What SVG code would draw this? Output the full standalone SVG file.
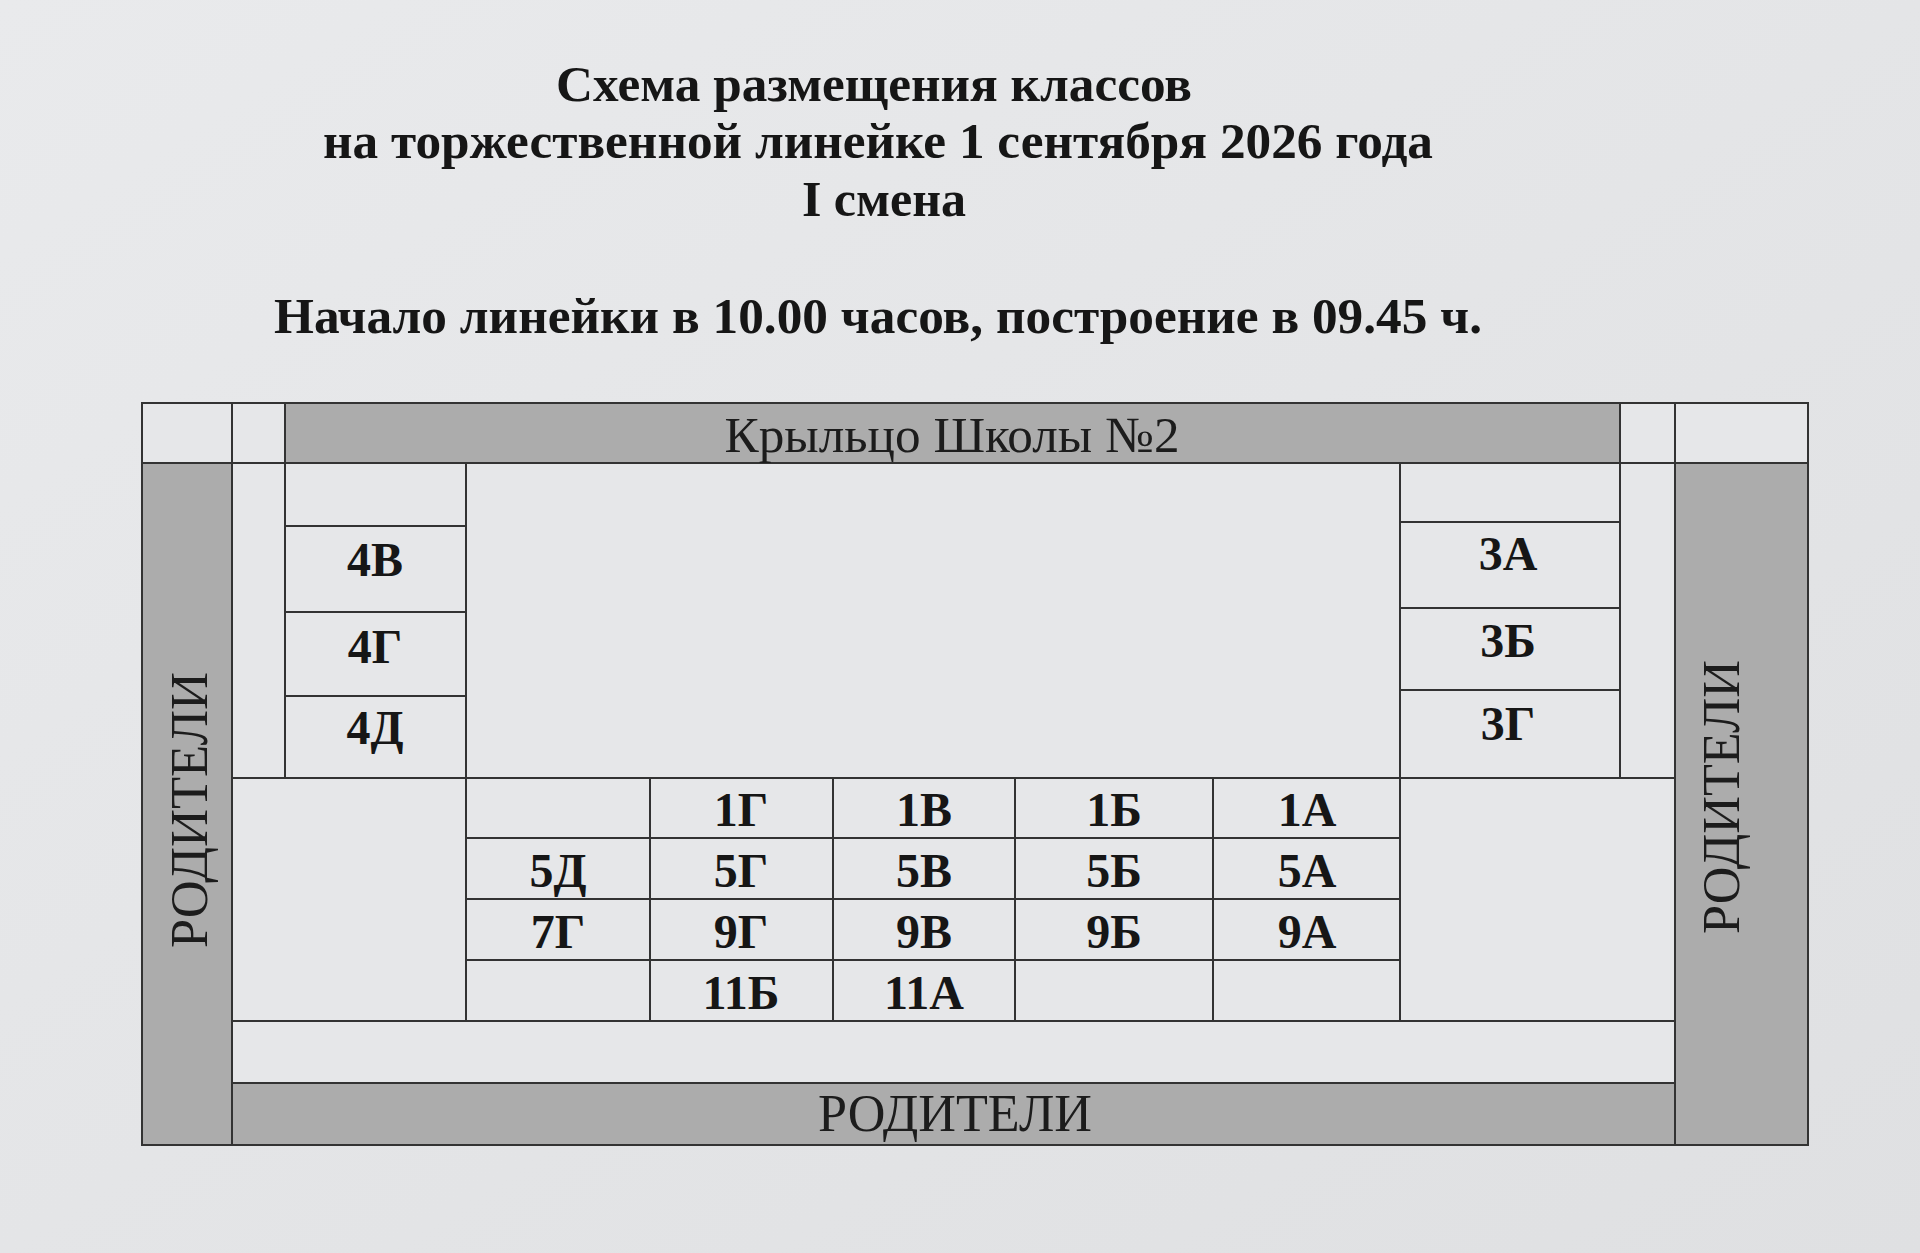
<svg xmlns="http://www.w3.org/2000/svg" width="1920" height="1253" viewBox="0 0 1920 1253">
<defs>
<linearGradient id="paper" x1="0" y1="0" x2="1" y2="1">
<stop offset="0" stop-color="#e9eaec"/>
<stop offset="1" stop-color="#dfe0e2"/>
</linearGradient>
<style>
.t{font-family:"Liberation Serif","Times New Roman",serif;font-weight:bold;fill:#161616;text-anchor:middle}
.r{font-family:"Liberation Serif","Times New Roman",serif;font-weight:normal;fill:#1c1c1c;text-anchor:middle}
.c{font-family:"Liberation Serif","Times New Roman",serif;font-weight:bold;font-size:48px;fill:#161616;text-anchor:middle}
.gray{fill:#acacac;stroke:#333;stroke-width:2}
.cell{fill:#e6e7e9;stroke:#333;stroke-width:2}
.ln{stroke:#333;stroke-width:2;fill:none}
</style>
</defs>
<rect width="1920" height="1253" fill="url(#paper)"/>

<g id="title">
<text class="t" x="874" y="101" font-size="50" textLength="636" lengthAdjust="spacingAndGlyphs">Схема размещения классов</text>
<text class="t" x="878" y="158" font-size="50" textLength="1110" lengthAdjust="spacingAndGlyphs">на торжественной линейке 1 сентября 2026 года</text>
<text class="t" x="884" y="216" font-size="50">I смена</text>
<text class="t" x="878" y="333" font-size="50" textLength="1208" lengthAdjust="spacingAndGlyphs">Начало линейки в 10.00 часов, построение в 09.45 ч.</text>
</g>

<g id="frame">
<rect class="cell" x="142" y="403" width="90" height="60"/>
<rect class="cell" x="232" y="403" width="53" height="60"/>
<rect class="cell" x="1620" y="403" width="55" height="60"/>
<rect class="cell" x="1675" y="403" width="133" height="60"/>
<rect class="cell" x="232" y="463" width="1443" height="620"/>
</g>

<g id="porch">
<rect class="gray" x="285" y="403" width="1335" height="60"/>
<text class="r" x="952" y="452" font-size="51" textLength="455" lengthAdjust="spacingAndGlyphs">Крыльцо Школы №2</text>
</g>

<g id="parents-left">
<rect class="gray" x="142" y="463" width="90" height="682"/>
<text class="r" font-size="52" transform="translate(207,810) rotate(-90)" textLength="276" lengthAdjust="spacingAndGlyphs">РОДИТЕЛИ</text>
</g>
<g id="parents-right">
<rect class="gray" x="1675" y="463" width="133" height="682"/>
<text class="r" font-size="52" transform="translate(1739,797) rotate(-90)" textLength="274" lengthAdjust="spacingAndGlyphs">РОДИТЕЛИ</text>
</g>
<g id="parents-bottom">
<rect class="gray" x="232" y="1083" width="1443" height="62"/>
<text class="r" x="955" y="1131" font-size="52" textLength="274" lengthAdjust="spacingAndGlyphs">РОДИТЕЛИ</text>
</g>

<g id="lines">
<line class="ln" x1="285" y1="463" x2="285" y2="778"/>
<line class="ln" x1="1620" y1="463" x2="1620" y2="778"/>
<line class="ln" x1="232" y1="778" x2="1675" y2="778"/>
<line class="ln" x1="232" y1="1021" x2="1675" y2="1021"/>
<line class="ln" x1="466" y1="463" x2="466" y2="1021"/>
<line class="ln" x1="1400" y1="463" x2="1400" y2="1021"/>
<line class="ln" x1="285" y1="526" x2="466" y2="526"/>
<line class="ln" x1="285" y1="612" x2="466" y2="612"/>
<line class="ln" x1="285" y1="696" x2="466" y2="696"/>
<line class="ln" x1="1400" y1="522" x2="1620" y2="522"/>
<line class="ln" x1="1400" y1="608" x2="1620" y2="608"/>
<line class="ln" x1="1400" y1="690" x2="1620" y2="690"/>
<line class="ln" x1="650" y1="778" x2="650" y2="1021"/>
<line class="ln" x1="833" y1="778" x2="833" y2="1021"/>
<line class="ln" x1="1015" y1="778" x2="1015" y2="1021"/>
<line class="ln" x1="1213" y1="778" x2="1213" y2="1021"/>
<line class="ln" x1="466" y1="838" x2="1400" y2="838"/>
<line class="ln" x1="466" y1="899" x2="1400" y2="899"/>
<line class="ln" x1="466" y1="960" x2="1400" y2="960"/>
</g>

<g id="class-4V"><text class="c" x="375" y="576">4В</text></g>
<g id="class-4G"><text class="c" x="375" y="663">4Г</text></g>
<g id="class-4D"><text class="c" x="375" y="744">4Д</text></g>
<g id="class-3A"><text class="c" x="1508" y="570">3А</text></g>
<g id="class-3B"><text class="c" x="1508" y="657">3Б</text></g>
<g id="class-3G"><text class="c" x="1508" y="740">3Г</text></g>

<g id="class-1G"><text class="c" x="741" y="826">1Г</text></g>
<g id="class-1V"><text class="c" x="924" y="826">1В</text></g>
<g id="class-1B"><text class="c" x="1114" y="826">1Б</text></g>
<g id="class-1A"><text class="c" x="1307" y="826">1А</text></g>

<g id="class-5D"><text class="c" x="558" y="887">5Д</text></g>
<g id="class-5G"><text class="c" x="741" y="887">5Г</text></g>
<g id="class-5V"><text class="c" x="924" y="887">5В</text></g>
<g id="class-5B"><text class="c" x="1114" y="887">5Б</text></g>
<g id="class-5A"><text class="c" x="1307" y="887">5А</text></g>

<g id="class-7G"><text class="c" x="558" y="948">7Г</text></g>
<g id="class-9G"><text class="c" x="741" y="948">9Г</text></g>
<g id="class-9V"><text class="c" x="924" y="948">9В</text></g>
<g id="class-9B"><text class="c" x="1114" y="948">9Б</text></g>
<g id="class-9A"><text class="c" x="1307" y="948">9А</text></g>

<g id="class-11B"><text class="c" x="741" y="1009">11Б</text></g>
<g id="class-11A"><text class="c" x="924" y="1009">11А</text></g>
</svg>
